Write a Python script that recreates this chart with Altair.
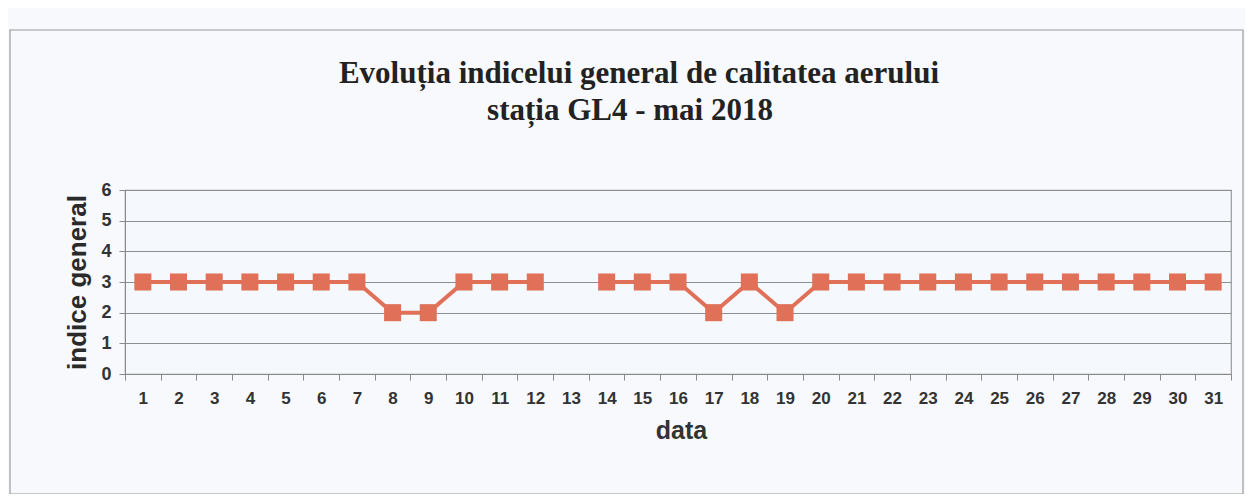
import altair as alt
import pandas as pd

days = list(range(1, 32))
values = [3, 3, 3, 3, 3, 3, 3, 2, 2, 3, 3, 3, None, 3, 3, 3, 2, 3, 2,
          3, 3, 3, 3, 3, 3, 3, 3, 3, 3, 3, 3]
title_lines = ["Evoluția indicelui general de calitatea aerului", "stația GL4 - mai 2018"]

df = pd.DataFrame({"data": [str(d) for d in days], "indice": values})
order = [str(d) for d in days]

W, H = 1106, 184
PL, PT = 117, 182

x = alt.X("data:O", sort=order,
          scale=alt.Scale(domain=order, paddingInner=0, paddingOuter=0),
          axis=alt.Axis(title="data", labelAngle=0, tickBand="extent",
                        labelFont="Liberation Sans", labelFontWeight="bold",
                        labelFontSize=17, labelColor="#333333", labelPadding=10,
                        tickSize=6, tickColor="#8a8a8a", domainColor="#8a8a8a",
                        titleFont="Liberation Sans", titleFontSize=25,
                        titleFontWeight="bold", titleColor="#333333", titlePadding=12,
                        titleX=556, grid=False))
y = alt.Y("indice:Q",
          scale=alt.Scale(domain=[0, 6], nice=False),
          axis=alt.Axis(title="indice general", values=[0, 1, 2, 3, 4, 5, 6],
                        labelFont="Liberation Sans", labelFontWeight="bold",
                        labelFontSize=18, labelColor="#333333", labelPadding=8,
                        tickSize=6, tickColor="#8a8a8a", domainColor="#8a8a8a",
                        grid=True, gridColor="#8f8f8f", gridWidth=1.2,
                        titleFont="Liberation Sans", titleFontSize=26,
                        titleFontWeight="bold", titleColor="#2a2a2a", titlePadding=10))

base = alt.Chart(df)

line = base.mark_line(color="#E07158", strokeWidth=4,
                      invalid="break-paths-show-domains").encode(x=x, y=y)
pts = base.mark_point(shape="square", filled=True, size=290, opacity=1,
                      color="#E07158").encode(x=x, y=y)

frame = alt.Chart(pd.DataFrame({"a": [0]})).mark_rect(
    fill=None, stroke="#9a9a9a", strokeWidth=1.2, clip=False
).encode(x=alt.value(10 - 8 - PL), x2=alt.value(1243 - 8 - PL),
         y=alt.value(30 - 8 - PT), y2=alt.value(494 - 8 - PT))

tdf = pd.DataFrame({"t": title_lines, "i": [0, 1]})
t1 = alt.Chart(tdf).transform_filter("datum.i == 0").mark_text(
    font="Liberation Serif", fontSize=31, fontWeight="bold", color="#222222",
    align="center", baseline="middle", clip=False
).encode(text="t:N", x=alt.value(639 - 8 - PL), y=alt.value(74 - 8 - PT))
t2 = alt.Chart(tdf).transform_filter("datum.i == 1").mark_text(
    font="Liberation Serif", fontSize=31, fontWeight="bold", color="#222222",
    align="center", baseline="middle", clip=False
).encode(text="t:N", x=alt.value(630 - 8 - PL), y=alt.value(111 - 8 - PT))

chart = alt.layer(frame, line, pts, t1, t2).properties(
    width=W, height=H,
    padding={"left": PL, "top": PT, "right": 1237 - PL - W, "bottom": 486 - PT - H},
    autosize=alt.AutoSizeParams(type="none"),
    background="#F7F9FC",
).configure_view(stroke="#9a9a9a", strokeWidth=1.2, fill="#F5F8FC")

chart.save("out.html", embed_options={"renderer": "svg", "actions": False})
